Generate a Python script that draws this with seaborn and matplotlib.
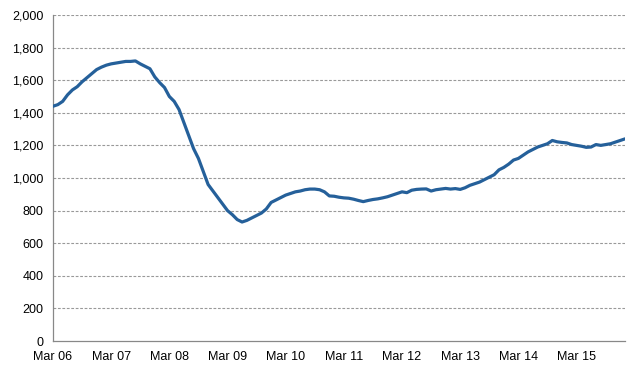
import numpy as np
import pandas as pd
import matplotlib
matplotlib.use("Agg")
import matplotlib.pyplot as plt
import seaborn as sns

# Monthly values, Mar 2006 - Jan 2016
values = [
    1440, 1450, 1470, 1510, 1540, 1560, 1590, 1615, 1640, 1665, 1680, 1692,
    1700, 1705, 1710, 1715, 1715, 1718, 1700, 1685, 1670, 1620, 1585, 1555,
    1500, 1470, 1420, 1340, 1260, 1180, 1120, 1040, 960, 920, 880, 840,
    800, 775, 745, 730, 740, 755, 770, 785, 810, 850, 865, 880,
    895, 905, 915, 920, 928, 932, 932, 928, 915, 890, 888, 882,
    878, 876, 870, 862, 855, 862, 868, 872, 878, 885, 895, 905,
    915, 910, 925, 930, 932, 933, 920, 928, 932, 936, 932, 935,
    930, 940, 955, 965, 975, 990, 1005, 1020, 1050, 1065, 1085, 1110,
    1120, 1140, 1160, 1175, 1190, 1200, 1210, 1230, 1222, 1218, 1215, 1205,
    1200, 1195, 1188, 1190, 1205, 1200, 1205, 1210, 1220, 1230, 1240,
]
tick_labels = ["Mar 06", "Mar 07", "Mar 08", "Mar 09", "Mar 10",
               "Mar 11", "Mar 12", "Mar 13", "Mar 14", "Mar 15"]
y_ticks = [0, 200, 400, 600, 800, 1000, 1200, 1400, 1600, 1800, 2000]

df = pd.DataFrame({"month": np.arange(len(values)), "value": values})

sns.set_theme(style="white")
plt.rcParams["font.family"] = ["Liberation Sans", "DejaVu Sans"]

fig = plt.figure(figsize=(6.4, 3.74), dpi=100)
ax = fig.add_axes([0.0828, 0.0882, 0.8938, 0.8718])

sns.lineplot(data=df, x="month", y="value", ax=ax, color="#25609A",
             linewidth=2.3, zorder=3)

ax.set_xlim(0, len(values) - 1)
ax.set_ylim(0, 2000)
ax.set_xticks([i * 12 for i in range(len(tick_labels))])
ax.set_xticklabels(tick_labels)
ax.set_yticks(y_ticks)
ax.set_yticklabels([f"{v:,}" for v in y_ticks])
ax.set_xlabel("")
ax.set_ylabel("")

for v in y_ticks[1:]:
    ax.axhline(v, color="#999999", linestyle=(0, (2.5, 1.5)), linewidth=0.8, zorder=1)

for side in ["top", "right"]:
    ax.spines[side].set_visible(False)
for side in ["left", "bottom"]:
    ax.spines[side].set_color("#888888")
    ax.spines[side].set_linewidth(0.9)

ax.tick_params(axis="both", which="both", length=4, width=0.9, color="#888888",
               labelsize=9, labelcolor="#000000", direction="out")
ax.tick_params(axis="y", pad=3)
ax.tick_params(axis="x", pad=3)
ax.grid(False)

fig.savefig("out.png", dpi=100)
